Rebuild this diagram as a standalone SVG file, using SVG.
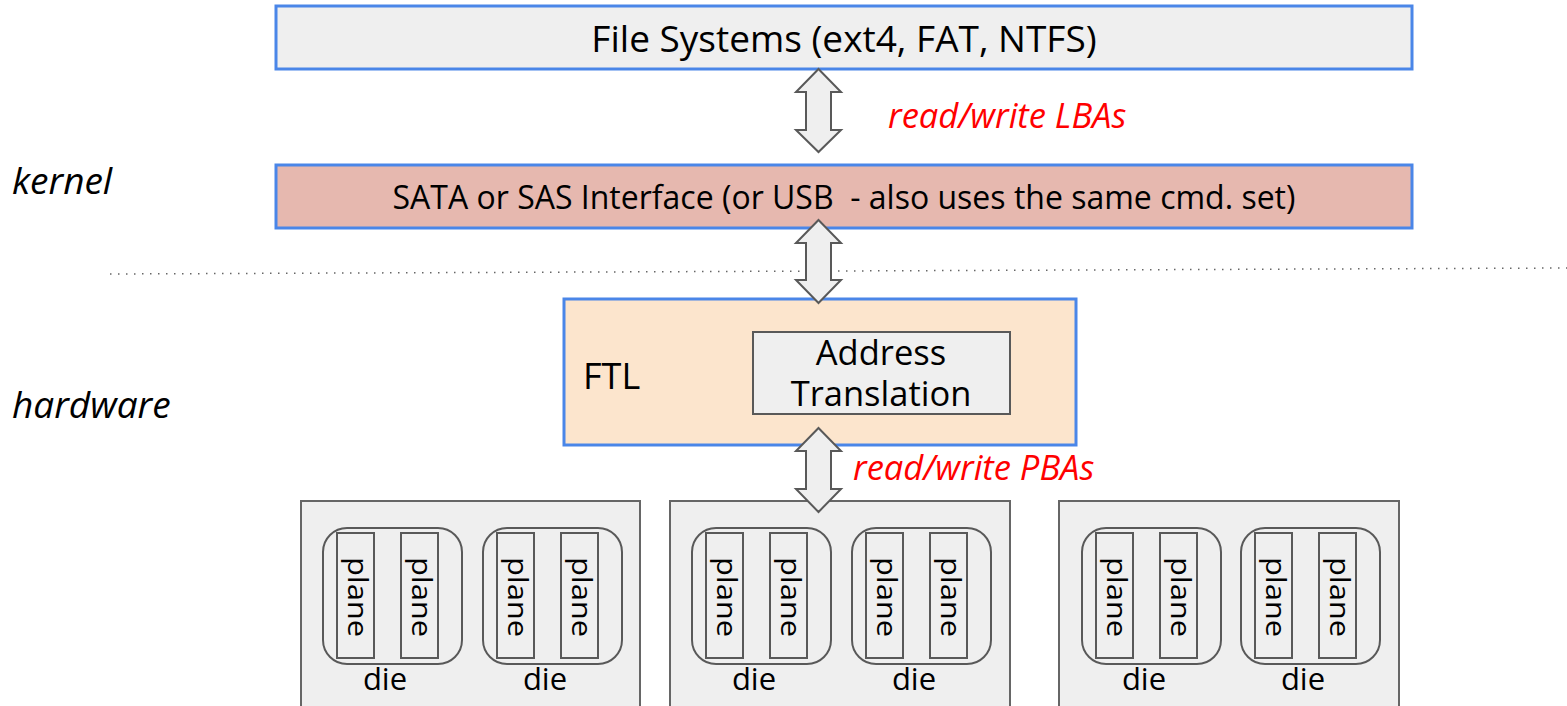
<svg xmlns="http://www.w3.org/2000/svg" width="1567" height="706" viewBox="0 0 1567 706">
<style>
text{font-family:"Open Sans","Noto Sans","DejaVu Sans",sans-serif;fill:#000}
.main{stroke:#4a86e8;stroke-width:3}
.grey{fill:#efefef;stroke:#666;stroke-width:2}
.plane{fill:#efefef;stroke:#595959;stroke-width:2}
.die{fill:none;stroke:#595959;stroke-width:2}
.arrow{fill:#efefef;stroke:#595959;stroke-width:2;stroke-linejoin:miter}
.red{fill:#ff0000;font-style:italic;font-size:34.5px}
.side{font-style:italic;font-size:37px}
.pl{font-size:28px}
.dl{font-size:31px}
</style>
<defs>
<g id="die">
<rect x="0" y="0" width="139" height="136" rx="24" class="die"/>
<rect x="14" y="5" width="37" height="125" class="plane"/>
<rect x="78" y="5" width="37" height="125" class="plane"/>
<text class="pl" transform="translate(25,69) rotate(90)" text-anchor="middle" textLength="80" lengthAdjust="spacingAndGlyphs">plane</text>
<text class="pl" transform="translate(89,69) rotate(90)" text-anchor="middle" textLength="80" lengthAdjust="spacingAndGlyphs">plane</text>
<text class="dl" x="62" y="162" text-anchor="middle">die</text>
</g>
</defs>
<g id="labels">
<text class="side" x="12" y="194">kernel</text>
<text class="side" x="12" y="418">hardware</text>
</g>
<line x1="110" y1="274" x2="1567" y2="268" stroke="#666" stroke-width="1.5" stroke-dasharray="1.5 6.5"/>
<g id="filesystems">
<rect x="276" y="6" width="1136" height="63" fill="#efefef" class="main"/>
<text x="844" y="52" font-size="37" text-anchor="middle">File Systems (ext4, FAT, NTFS)</text>
</g>
<g id="sata">
<rect x="276" y="165" width="1136" height="63" fill="#e6b8af" class="main"/>
<text x="844" y="209" font-size="32" text-anchor="middle" xml:space="preserve">SATA or SAS Interface (or USB  - also uses the same cmd. set)</text>
</g>
<g id="ftl">
<rect x="564" y="299" width="512" height="146" fill="#fce5cd" class="main"/>
<text x="583" y="389" font-size="36">FTL</text>
</g>
<g id="address-translation">
<rect x="753" y="332" width="257" height="82" class="plane"/>
<text font-size="34.5" text-anchor="middle"><tspan x="881" y="365">Address</tspan><tspan x="881" y="406">Translation</tspan></text>
</g>
<g id="package1">
<rect x="301" y="501" width="339" height="215" class="grey"/>
<use href="#die" x="323" y="528"/>
<use href="#die" x="483" y="528"/>
</g>
<g id="package2">
<rect x="670" y="501" width="340" height="215" class="grey"/>
<use href="#die" x="692" y="528"/>
<use href="#die" x="852" y="528"/>
</g>
<g id="package3">
<rect x="1059" y="501" width="340" height="215" class="grey"/>
<use href="#die" x="1082" y="528"/>
<use href="#die" x="1241" y="528"/>
</g>
<g id="connectors">
<path class="arrow" d="M818.5,69 L841,92 L831,92 L831,130 L841,130 L818.5,152 L796,130 L806,130 L806,92 L796,92 Z"/>
<path class="arrow" d="M818.5,220 L841,243 L831,243 L831,280 L841,280 L818.5,303 L796,280 L806,280 L806,243 L796,243 Z"/>
<path class="arrow" d="M818.5,428 L841,451 L831,451 L831,489 L841,489 L818.5,512 L796,489 L806,489 L806,451 L796,451 Z"/>
<text class="red" x="888" y="128">read/write LBAs</text>
<text class="red" x="853" y="480">read/write PBAs</text>
</g>
</svg>
